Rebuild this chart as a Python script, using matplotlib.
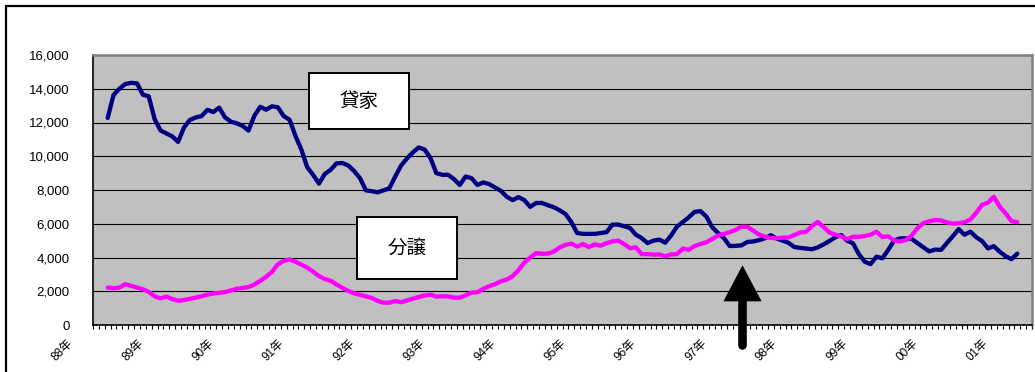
import matplotlib
matplotlib.use('Agg')
import matplotlib.pyplot as plt
from matplotlib.patches import Rectangle, Polygon
from matplotlib.lines import Line2D
from matplotlib.ticker import FixedLocator
import matplotlib.transforms as mtransforms
import numpy as np

plt.rcParams['font.family'] = ['Liberation Sans', 'Noto Sans CJK JP']

# ---------------- data ----------------
year_labels = ['88年', '89年', '90年', '91年', '92年', '93年', '94年',
               '95年', '96年', '97年', '98年', '99年', '00年', '01年']
series_names = ['貸家', '分譲']
start_month = 2          # first value is the 3rd monthly category (Mar 1988)
n_categories = 160       # monthly categories on the axis

kashiya = [
    12270, 13630, 14000, 14280, 14350, 14320, 13650, 13550, 12200, 11530,
    11350, 11180, 10850, 11700, 12150, 12300, 12380, 12750, 12620, 12880,
    12300, 12050, 11950, 11800, 11520, 12400, 12930, 12760, 12960, 12900,
    12380, 12160, 11200, 10400, 9350, 8900, 8380, 8950, 9200, 9580,
    9600, 9450, 9120, 8700, 7980, 7930, 7860, 7980, 8100, 8800,
    9450, 9870, 10230, 10520, 10400, 9900, 9000, 8900, 8900, 8650,
    8300, 8800, 8700, 8300, 8450, 8350, 8150, 7950, 7600, 7400,
    7580, 7400, 7000, 7230, 7230, 7100, 6980, 6800, 6580, 6100,
    5450, 5400, 5400, 5400, 5450, 5500, 5950, 5950, 5850, 5750,
    5350, 5150, 4850, 5000, 5060, 4880, 5300, 5830, 6100, 6380,
    6700, 6750, 6430, 5800, 5450, 5150, 4680, 4690, 4720, 4920,
    4950, 5030, 5140, 5320, 5120, 5000, 4870, 4620, 4570, 4530,
    4490, 4600, 4780, 4980, 5200, 5330, 5000, 4840, 4200, 3750,
    3610, 4050, 3950, 4450, 5000, 5130, 5140, 5100, 4850, 4600,
    4360, 4470, 4450, 4850, 5260, 5680, 5350, 5530, 5200, 4970,
    4540, 4670, 4340, 4080, 3900, 4230,
]

bunjo = [
    2220, 2180, 2220, 2420, 2320, 2220, 2120, 1960, 1700, 1580,
    1680, 1540, 1440, 1480, 1550, 1620, 1700, 1800, 1870, 1900,
    1950, 2050, 2150, 2200, 2250, 2400, 2620, 2850, 3150, 3600,
    3800, 3880, 3750, 3580, 3400, 3160, 2900, 2720, 2620, 2400,
    2200, 2020, 1880, 1780, 1700, 1600, 1430, 1320, 1320, 1420,
    1350, 1460, 1560, 1660, 1750, 1800, 1690, 1700, 1700, 1620,
    1620, 1760, 1920, 1940, 2150, 2300, 2420, 2590, 2690, 2900,
    3250, 3700, 4000, 4260, 4220, 4230, 4350, 4590, 4750, 4820,
    4650, 4800, 4620, 4780, 4700, 4850, 4950, 5000, 4800, 4550,
    4600, 4200, 4200, 4170, 4180, 4070, 4180, 4200, 4530, 4460,
    4680, 4800, 4900, 5100, 5300, 5400, 5500, 5640, 5830, 5820,
    5590, 5360, 5230, 5160, 5140, 5170, 5190, 5330, 5480, 5520,
    5860, 6110, 5800, 5480, 5350, 5250, 5090, 5230, 5230, 5270,
    5350, 5530, 5210, 5260, 5000, 4950, 5030, 5300, 5750, 6040,
    6150, 6220, 6200, 6080, 6010, 6030, 6090, 6250, 6650, 7120,
    7250, 7600, 7010, 6620, 6160, 6090,
]

y_ticks = [0, 2000, 4000, 6000, 8000, 10000, 12000, 14000, 16000]

# ---------------- figure ----------------
W, H = 1035, 372
fig = plt.figure(figsize=(W / 100, H / 100), dpi=100)
fig.patch.set_facecolor('white')


def fx(px):
    return px / W


def fy(py):
    return 1 - py / H


# outer chart frame (right / bottom edges fall outside the image)
fig.patches.append(Rectangle((fx(6), fy(400)), fx(1060) - fx(6), fy(6) - fy(400),
                             transform=fig.transFigure, fill=False,
                             ec='black', lw=1.6, zorder=0))

ax = fig.add_axes([fx(93), fy(325), fx(1032) - fx(93), fy(55) - fy(325)])
ax.set_facecolor('#C0C0C0')

x = np.arange(start_month, start_month + len(kashiya))
ax.plot(x, kashiya, color='#000080', lw=3.1, solid_joinstyle='round',
        solid_capstyle='round', zorder=3)
x2 = np.arange(start_month, start_month + len(bunjo))
ax.plot(x2, bunjo, color='#FF00FF', lw=3.1, solid_joinstyle='round',
        solid_capstyle='round', zorder=3)

ax.set_xlim(-0.5, n_categories - 0.5)
ax.set_ylim(0, 16000)
ax.set_yticks(y_ticks)
ax.set_yticklabels([f'{v:,}' for v in y_ticks])
ax.yaxis.grid(True, color='black', lw=0.8)
ax.set_axisbelow(True)
ax.tick_params(axis='y', length=0, pad=17, labelsize=9.5)

ax.set_xticks([])
ax.xaxis.set_minor_locator(FixedLocator(np.arange(-0.5, n_categories, 1)))
ax.tick_params(axis='x', which='minor', length=3, width=0.8, direction='out',
               color='black')

for side in ['left', 'bottom']:
    ax.spines[side].set_color('black')
    ax.spines[side].set_linewidth(1.2)
for side in ['top', 'right']:
    ax.spines[side].set_color('#808080')
    ax.spines[side].set_linewidth(1.8)

trans = mtransforms.blended_transform_factory(ax.transData, ax.transAxes)
for i, lab in enumerate(year_labels):
    ax.text(12 * i - 4.2, -0.06, lab, rotation=45, rotation_mode='anchor',
            ha='right', va='center', fontsize=8.5, transform=trans,
            clip_on=False)

# series label boxes
boxes = [(series_names[0], 309, 73, 409, 129),
         (series_names[1], 357, 217, 457, 279)]
for name, x0, y0, x1, y1 in boxes:
    fig.patches.append(Rectangle((fx(x0), fy(y1)), fx(x1) - fx(x0), fy(y0) - fy(y1),
                                 transform=fig.transFigure, fc='white',
                                 ec='black', lw=1.4, zorder=5))
    fig.text(fx((x0 + x1) / 2), fy((y0 + y1) / 2), name, ha='center',
             va='center', fontsize=14, family=['Noto Sans CJK JP'], zorder=6)

# arrow
fig.add_artist(Line2D([fx(742), fx(742)], [fy(345), fy(298)],
                      transform=fig.transFigure, color='black', lw=6.2,
                      solid_capstyle='round', zorder=7))
fig.patches.append(Polygon([(fx(724), fy(301)), (fx(761), fy(301)),
                            (fx(742.5), fy(266))], closed=True,
                           transform=fig.transFigure, fc='black', ec='black',
                           lw=0.5, zorder=7))

fig.savefig('out.png', dpi=100)
